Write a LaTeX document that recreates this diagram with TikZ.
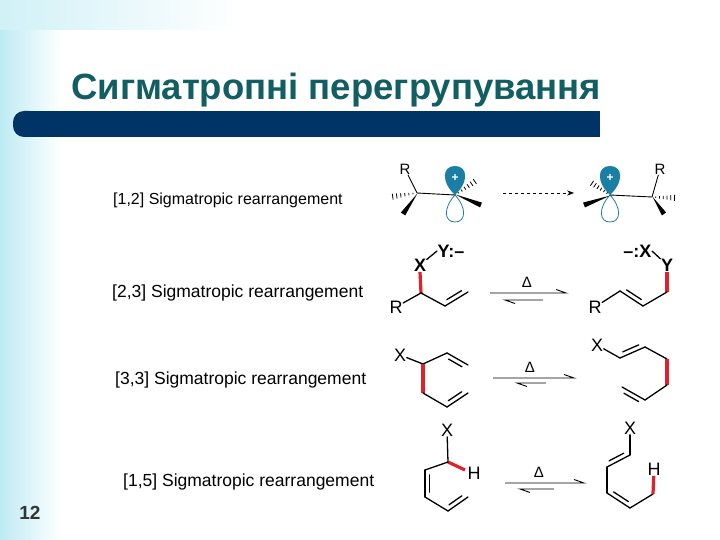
\documentclass[tikz,border=0pt]{standalone}
\usepackage{fontspec}
\setmainfont{Liberation Sans}
\usetikzlibrary{calc,arrows.meta}
\definecolor{titlec}{HTML}{115E63}
\definecolor{barc}{HTML}{003366}
\definecolor{orb}{HTML}{1B7FA3}
\definecolor{bondred}{HTML}{E0202A}
\definecolor{bgc}{HTML}{BDEBF3}
\newcommand{\dbond}[3]{\draw[bond] (#1)--(#2); \draw[bond] ($($(#1)!0.18!(#2)$)!4.5pt!#3:(#2)$) -- ($($(#2)!0.18!(#1)$)!4.5pt!-#3:(#1)$);}
\newcommand{\wedgeb}[2]{\fill ($(#1)!0.6pt!90:(#2)$) -- ($(#2)!2.6pt!-90:(#1)$) -- ($(#2)!2.6pt!90:(#1)$) -- cycle;}
\newcommand{\hashb}[2]{\foreach \t in {0.15,0.3,...,1.0}{\draw[line width=0.8pt] ($($(#1)!\t!(#2)$)!{0.4pt+\t*2.8pt}!90:(#2)$) -- ($($(#1)!\t!(#2)$)!{0.4pt+\t*2.8pt}!-90:(#2)$);}}
\begin{document}
\begin{tikzpicture}[x=1pt,y=-1pt,
  bond/.style={line width=1.3pt,line cap=round},
  rbond/.style={line width=3.2pt,color=bondred},
  lab/.style={font=\fontsize{17.5}{18}\selectfont,inner sep=0.5pt},
  atom/.style={font=\fontsize{18}{18}\selectfont,inner sep=0.5pt},
  batom/.style={font=\bfseries\fontsize{18}{18}\selectfont,inner sep=0.5pt},
  eqarr/.style={line width=0.9pt}]
\useasboundingbox (0,0) rectangle (720,540);
\fill[white] (0,0) rectangle (720,540);
\shade[left color=bgc,right color=white] (0,0) rectangle (62,540);
\shade[left color=bgc!70,right color=white] (0,0) rectangle (240,30);
\fill[white] (60,540) -- (60,40) arc[start angle=180,end angle=90,radius=18] -- (720,22) -- (720,540) -- cycle;
\node[anchor=base west,text=titlec,font=\bfseries\fontsize{36.5}{36}\selectfont,inner sep=0] (title) at (71,100) {Сигматропні перегрупування};
\fill[barc,rounded corners=11pt] (13,111) rectangle (40,137);
\fill[barc] (30,111) rectangle (600,137);
\node[font=\bfseries\fontsize{19}{19}\selectfont,text=black!80] (num) at (30,513) {12};
% labels
\node[anchor=base west,font=\fontsize{16}{16}\selectfont,inner sep=0] (l12) at (113,205) {[1,2] Sigmatropic rearrangement};
\node[anchor=base west,lab,inner sep=0] (l23) at (112,297) {[2,3] Sigmatropic rearrangement};
\node[anchor=base west,lab,inner sep=0] (l33) at (115,384) {[3,3] Sigmatropic rearrangement};
\node[anchor=base west,lab,inner sep=0] (l15) at (123,486) {[1,5] Sigmatropic rearrangement};
% ===== [1,2] =====
\coordinate (a1) at (417,193); \coordinate (a2) at (455,195);
\coordinate (b1) at (652,197); \coordinate (b2) at (610,195);
\fill[orb] (a2) .. controls (441,182) and (442,166) .. (455,166) .. controls (468,166) and (469,182) .. (a2);
\draw[orb,line width=0.8pt] (a2) .. controls (443,208) and (444,222) .. (455,222) .. controls (466,222) and (467,208) .. (a2);
\fill[orb] (b2) .. controls (596,182) and (597,166) .. (610,166) .. controls (623,166) and (624,182) .. (b2);
\draw[orb,line width=0.8pt] (b2) .. controls (598,208) and (599,222) .. (610,222) .. controls (621,222) and (622,208) .. (b2);
\node[text=white,font=\bfseries\fontsize{12}{12}\selectfont] (p1) at (455,178) {+};
\node[text=white,font=\bfseries\fontsize{12}{12}\selectfont] (p2) at (610,178) {+};
\node[atom,font=\fontsize{15}{15}\selectfont] (R1) at (405,169) {R};
\node[atom,font=\fontsize{15}{15}\selectfont] (R2) at (660,169) {R};
\draw[line width=0.9pt] (a1)--(a2); \draw[line width=0.9pt] (R1)--(a1);
\draw[line width=0.9pt] (b1)--(b2); \draw[line width=0.9pt] (R2)--(b1);
\coordinate (h1) at (390,197); \coordinate (w1) at (403,214);
\coordinate (h2) at (477,180); \coordinate (w2) at (481,205);
\coordinate (h3) at (590,182); \coordinate (w3) at (584,205);
\coordinate (h4) at (677,198); \coordinate (w4) at (664,214);
\hashb{a1}{h1} \wedgeb{a1}{w1} \hashb{a2}{h2} \wedgeb{a2}{w2}
\hashb{b2}{h3} \wedgeb{b2}{w3} \hashb{b1}{h4} \wedgeb{b1}{w4}
\coordinate (d1) at (503,193); \coordinate (d2) at (574,193);
\draw[dashed,line width=0.7pt,-{Stealth[length=7pt]}] (d1)--(d2);
% ===== [2,3] =====
\node[batom] (X1) at (420,265) {X};
\node[batom,anchor=west] (Y1) at (437,251) {Y:–};
\coordinate (c1) at (421,293);
\coordinate (c2) at (445,306); \coordinate (c3) at (468,292);
\node[atom] (R3) at (396,307) {R};
\draw[bond] (X1)--(Y1.west);
\draw[rbond] (X1.south)--(c1);
\draw[bond] (c1)--(R3); \draw[bond] (c1)--(c2);
\dbond{c2}{c3}{90}
\node[batom] (Y2) at (667,265) {Y};
\node[batom,anchor=east] (X2) at (652,251) {–:X};
\draw[bond] (X2.east)--(Y2);
\coordinate (e1) at (667,292); \coordinate (e2) at (643,306); \coordinate (e3) at (620,291);
\node[atom] (R4) at (595,307) {R};
\draw[rbond] (Y2.south)--(e1); \draw[bond] (e1)--(e2);
\dbond{e2}{e3}{-90}
\draw[bond] (e3)--(R4);
\coordinate (q1) at (490,293); \coordinate (q2) at (566,293);
\coordinate (q3) at (505,300); \coordinate (q4) at (543,300);
\draw[eqarr] (q1)--(q2) -- ++(-10,-3.5);
\draw[eqarr] (q4)--(q3) -- ++(10,3.5);
\node[atom,font=\fontsize{15}{15}\selectfont] (D1) at (527,282) {Δ};
% ===== [3,3] =====
\node[atom] (X3) at (400,355) {X};
\coordinate (f1) at (423,364); \coordinate (f2) at (447,353); \coordinate (f3) at (468,365);
\coordinate (f4) at (423,393); \coordinate (f5) at (447,407); \coordinate (f6) at (468,393);
\draw[bond] (X3)--(f1); \draw[bond] (f1)--(f2);
\dbond{f2}{f3}{-90}
\draw[rbond] (f1)--(f4); \draw[bond] (f4)--(f5);
\dbond{f5}{f6}{90}
\node[atom] (X4) at (597,345) {X};
\coordinate (g1) at (620,358); \coordinate (g2) at (645,347); \coordinate (g3) at (667,359);
\coordinate (g4) at (667,385); \coordinate (g5) at (645,400); \coordinate (g6) at (622,387);
\draw[bond] (X4)--(g1);
\dbond{g1}{g2}{90}
\draw[bond] (g2)--(g3); \draw[rbond] (g3)--(g4); \draw[bond] (g4)--(g5);
\dbond{g5}{g6}{90}
\coordinate (s1) at (493,378); \coordinate (s2) at (574,378);
\coordinate (s3) at (517,383); \coordinate (s4) at (546,383);
\draw[eqarr] (s1)--(s2) -- ++(-10,-3.5);
\draw[eqarr] (s4)--(s3) -- ++(10,3.5);
\node[atom,font=\fontsize{15}{15}\selectfont] (D2) at (530,367) {Δ};
% ===== [1,5] =====
\node[atom] (X5) at (447,430) {X};
\node[atom] (H1) at (474,473) {H};
\coordinate (k1) at (448,462); \coordinate (k2) at (425,470); \coordinate (k3) at (425,497);
\coordinate (k4) at (448,511); \coordinate (k5) at (468,497);
\draw[bond] (X5)--(k1); \draw[rbond] (k1)--(465,470);
\draw[bond] (k1)--(k2);
\dbond{k2}{k3}{90}
\draw[bond] (k3)--(k4);
\dbond{k4}{k5}{90}
\node[atom] (X6) at (630,428) {X};
\node[atom] (H2) at (654,469) {H};
\coordinate (m1) at (630,455); \coordinate (m2) at (607,467); \coordinate (m3) at (607,493);
\coordinate (m4) at (630,508); \coordinate (m5) at (653,494);
\draw[bond] (X6)--(m1);
\dbond{m1}{m2}{-90}
\draw[bond] (m2)--(m3);
\dbond{m3}{m4}{90}
\draw[bond] (m4)--(m5); \draw[rbond] (m5)--(H2);
\coordinate (t1) at (505,483); \coordinate (t2) at (584,483);
\coordinate (t3) at (520,489); \coordinate (t4) at (554,489);
\draw[eqarr] (t1)--(t2) -- ++(-10,-3.5);
\draw[eqarr] (t4)--(t3) -- ++(10,3.5);
\node[atom,font=\fontsize{15}{15}\selectfont] (D3) at (539,472) {Δ};
\end{tikzpicture}
\end{document}
